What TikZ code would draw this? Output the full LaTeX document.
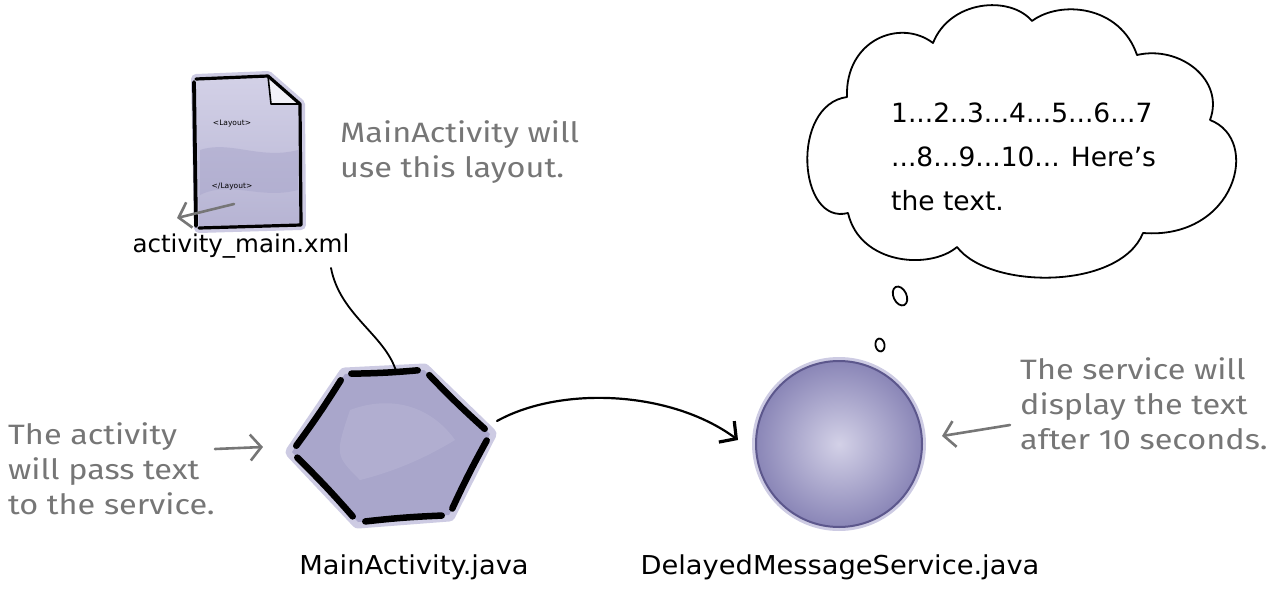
\documentclass[tikz,border=0pt]{standalone}
\usepackage{fontspec}
\usetikzlibrary{arrows.meta,calc,shapes.geometric}
\newfontfamily\labelfont{DejaVu Sans}
\newfontfamily\widelabelfont[FakeStretch=1.05]{DejaVu Sans}
\newfontfamily\notefont[FakeStretch=1.16]{Fira Sans}
\definecolor{notegray}{HTML}{767676}
\definecolor{lav}{HTML}{A9A6CB}
\definecolor{lavhalo}{HTML}{CDCBE3}
\definecolor{lavlight}{HTML}{D3D1E7}
\definecolor{lavdark}{HTML}{8A86B7}
\definecolor{lavedge}{HTML}{5C578C}
\tikzset{
  label/.style={font=\labelfont\fontsize{24.5}{28}\selectfont, text=black, inner sep=0pt},
  biglabel/.style={font=\widelabelfont\fontsize{26}{30}\selectfont, text=black, inner sep=0pt},
  note/.style={font=\notefont\fontsize{28}{35}\selectfont, text=notegray, align=left, inner sep=0pt},
  thought/.style={font=\labelfont\fontsize{26.5}{44}\selectfont, align=left, inner sep=0pt},
  tag/.style={font=\labelfont\fontsize{7.5}{9}\selectfont, inner sep=0pt},
  notearrow/.style={draw=notegray, line width=2.6pt, line cap=round,
    -{Straight Barb[length=11pt, width=26pt, line width=2.6pt]}},
  flowarrow/.style={draw=black, line width=2.2pt, line cap=round,
    -{Straight Barb[length=12pt, width=26pt, line width=3.2pt]}},
  hexedge/.style={line width=6.5pt, line cap=round},
  outline/.style={line width=1.8pt, line join=round}
}
\begin{document}
\begin{tikzpicture}[x=1pt, y=-1pt]
\useasboundingbox (0,0) rectangle (1288,589);

% ---------- layout file icon ----------
\coordinate (dA) at (196,79);
\coordinate (dB) at (268,76);
\coordinate (dC) at (300,104);
\coordinate (dD) at (301,225);
\coordinate (dE) at (199,228);
\fill[lavhalo, line width=10pt, draw=lavhalo, line join=round] (dA) -- (dB) -- (dC) -- (dD) -- (dE) -- cycle;
\shade[top color=lavlight, bottom color=lav!85] (dA) -- (dB) -- (dC) -- (dD) -- (dE) -- cycle;
\fill[lav, opacity=0.5] (200,150) .. controls (230,140) and (260,160) .. (298,150)
   -- (298,190) .. controls (260,200) and (230,180) .. (200,195) -- cycle;
\fill[white!70!lavlight] (dB) -- (271,104) -- (dC) -- cycle;
\draw[line width=3.2pt, line join=round, line cap=round] (dA) -- (dB) -- (dC) -- (dD) -- (dE);
\draw[line width=3.8pt, line cap=round] (194,82) -- (196,226);
\draw[line width=1.6pt, line join=round] (dB) -- (271,104) -- (dC);
\node[tag] (tagopen) at (232,124) {<Layout>};
\node[tag] (tagclose) at (232,187) {</Layout>};
\coordinate (docarrowstart) at (234,204);
\coordinate (docarrowend) at (177,218);
\draw[notearrow] (docarrowstart) -- (docarrowend);

\node[label] (xmllabel) at (241,246) {activity\_main.xml};

% ---------- note on the layout ----------
\node[note, anchor=north west] (layoutnote) at (340,120) {MainActivity will\\use this layout.};

% ---------- MainActivity hexagon ----------
\coordinate (h1) at (345,374);
\coordinate (h2) at (424,370);
\coordinate (h3) at (490,434);
\coordinate (h4) at (449,515);
\coordinate (h5) at (358,522);
\coordinate (h6) at (292,452);
\fill[lavhalo, draw=lavhalo, line width=13pt, line join=round] (h1) -- (h2) -- (h3) -- (h4) -- (h5) -- (h6) -- cycle;
\fill[lav] (h1) -- (h2) -- (h3) -- (h4) -- (h5) -- (h6) -- cycle;
\fill[lavlight, opacity=0.2] (350,410) .. controls (390,395) and (430,405) .. (455,440)
   .. controls (430,455) and (400,470) .. (360,480) .. controls (335,455) .. cycle;
\foreach \p/\q in {h1/h2, h2/h3, h3/h4, h4/h5, h5/h6, h6/h1}
  \draw[hexedge] ($(\p)!0.08!(\q)$) to[bend right=2] ($(\p)!0.92!(\q)$);
\coordinate (hextop) at (396,371);
\coordinate (hexright) at (497,421);
\node[biglabel] (mainlabel) at (414,567) {MainActivity.java};

% ---------- DelayedMessageService circle ----------
\fill[lavhalo] (839,444) circle (87);
\node[circle, minimum size=166pt, inner sep=0pt, draw=lavedge, line width=2pt,
      inner color=lavlight, outer color=lavdark] (service) at (839,444) {};
\node[biglabel] (servicelabel) at (840,567) {DelayedMessageService.java};

% ---------- connectors ----------
\coordinate (xmlfoot) at (331,268);
\draw[line width=1.8pt, line cap=round] (xmlfoot) .. controls (340,315) and (385,335) .. (hextop);
\coordinate (servicein) at (738,440);
\draw[flowarrow] (hexright) .. controls (560,386) and (670,390) .. (servicein);

% ---------- side notes ----------
\node[note, anchor=north west] (activitynote) at (8,422) {The activity\\will pass text\\to the service.};
\coordinate (actarrowstart) at (215,449);
\coordinate (actarrowend) at (263,447);
\draw[notearrow] (actarrowstart) -- (actarrowend);

\node[note, anchor=north west] (servicenote) at (1020,357) {The service will\\display the text\\after 10 seconds.};
\coordinate (svcarrowstart) at (1010,425);
\coordinate (svcarrowend) at (942,436);
\draw[notearrow] (svcarrowstart) -- (svcarrowend);

% ---------- thought cloud ----------
\draw[outline, fill=white]
  (848,213) .. controls (798,226) and (790,105) .. (847,97)
  .. controls (845,40) and (900,18) .. (933,43)
  .. controls (950,0) and (1010,-5) .. (1032,21)
  .. controls (1060,0) and (1120,5) .. (1137,55)
  .. controls (1180,45) and (1225,80) .. (1210,120)
  .. controls (1262,140) and (1235,240) .. (1143,233)
  .. controls (1120,290) and (990,290) .. (957,247)
  .. controls (930,270) and (860,265) .. (848,213) -- cycle;
\node[thought, anchor=north west] (thoughttext) at (891,103)
  {1...2..3...4...5...6...7\\...8...9...10... Here’s\\the text.};
\draw[outline] (900,296) ellipse [x radius=6.5, y radius=10, rotate=25];
\draw[outline] (880,345) ellipse [x radius=4.5, y radius=6.5, rotate=10];
\end{tikzpicture}
\end{document}
